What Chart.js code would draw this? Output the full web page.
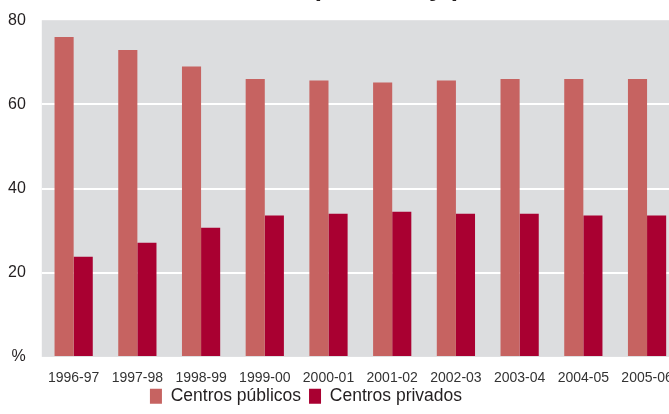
<!DOCTYPE html>
<html>
<head>
<meta charset="utf-8">
<script src="https://cdn.jsdelivr.net/npm/chart.js@4"></script>
<style>
  html, body { margin: 0; padding: 0; background: #fff; }
  #marco { position: relative; width: 669px; height: 414px; overflow: hidden; }
  #grafico { position: absolute; left: 0; top: -30px; }
</style>
</head>
<body>
<div id="marco">
  <canvas id="grafico" width="684" height="444"></canvas>
</div>
<script>
const cursos = ['1996-97', '1997-98', '1998-99', '1999-00', '2000-01', '2001-02', '2002-03', '2003-04', '2004-05', '2005-06'];
const centrosPublicos = [76.0, 72.9, 69.0, 66.0, 65.7, 65.2, 65.7, 66.0, 66.0, 66.0];
const centrosPrivados = [23.8, 27.1, 30.7, 33.6, 34.0, 34.5, 34.0, 34.0, 33.6, 33.6];
const ticksY = [0, 20, 40, 60, 80];

const fuente = "'Liberation Sans', Arial, sans-serif";

// fondo gris del area del grafico
const fondoGris = {
    id: 'fondoGris',
    beforeDraw(chart) {
        const { ctx, chartArea } = chart;
        ctx.save();
        ctx.fillStyle = '#DCDDDF';
        ctx.fillRect(chartArea.left, chartArea.top, chartArea.right - chartArea.left, chartArea.bottom - chartArea.top);
        ctx.restore();
    }
};

// la leyenda del original no esta centrada y va pegada a los ejes
const moverLeyenda = {
    id: 'moverLeyenda',
    afterLayout(chart) {
        const l = chart.legend;
        l.left -= 32;
        l.right -= 32;
        l.top -= 19;
        l.bottom -= 19;
    }
};

const ctx = document.getElementById('grafico').getContext('2d');
new Chart(ctx, {
    type: 'bar',
    data: {
        labels: cursos,
        datasets: [{
            label: 'Centros públicos',
            data: centrosPublicos,
            backgroundColor: '#C66361'
        }, {
            label: 'Centros privados',
            data: centrosPrivados,
            backgroundColor: '#A90031'
        }]
    },
    options: {
        responsive: false,
        animation: false,
        layout: { padding: { left: -8, right: 0, bottom: -20 } },
        datasets: {
            bar: { categoryPercentage: 0.6, barPercentage: 1.0 }
        },
        scales: {
            x: {
                grid: { display: false, drawTicks: false },
                border: { display: false },
                ticks: {
                    color: '#333',
                    padding: 11,
                    maxRotation: 0,
                    autoSkip: false,
                    font: { family: fuente, size: 14, lineHeight: 1.4 }
                }
            },
            y: {
                min: 0,
                max: 80,
                afterBuildTicks(scale) {
                    scale.ticks = ticksY.map(v => ({ value: v }));
                },
                grid: {
                    drawTicks: false,
                    lineWidth: 2,
                    color: c => (c.tick && c.tick.value > 0 && c.tick.value < 80) ? '#FFFFFF' : 'rgba(0,0,0,0)'
                },
                border: { display: false },
                ticks: {
                    color: '#231F20',
                    padding: 16,
                    font: { family: fuente, size: 16, lineHeight: 1 },
                    callback: v => v === 0 ? '%' : v
                }
            }
        },
        plugins: {
            title: {
                display: true,
                text: 'Alumnado en centros públicos y privados',
                align: 'start',
                fullSize: false,
                color: '#231F20',
                font: { family: fuente, size: 26, weight: 'bold' },
                padding: { top: 3, bottom: 16 }
            },
            legend: {
                position: 'bottom',
                labels: {
                    color: '#231F20',
                    boxWidth: 12,
                    boxHeight: 15,
                    padding: 8,
                    font: { family: fuente, size: 17.5, lineHeight: 1 }
                }
            },
            tooltip: { enabled: false }
        }
    },
    plugins: [fondoGris, moverLeyenda]
});
</script>
</body>
</html>
